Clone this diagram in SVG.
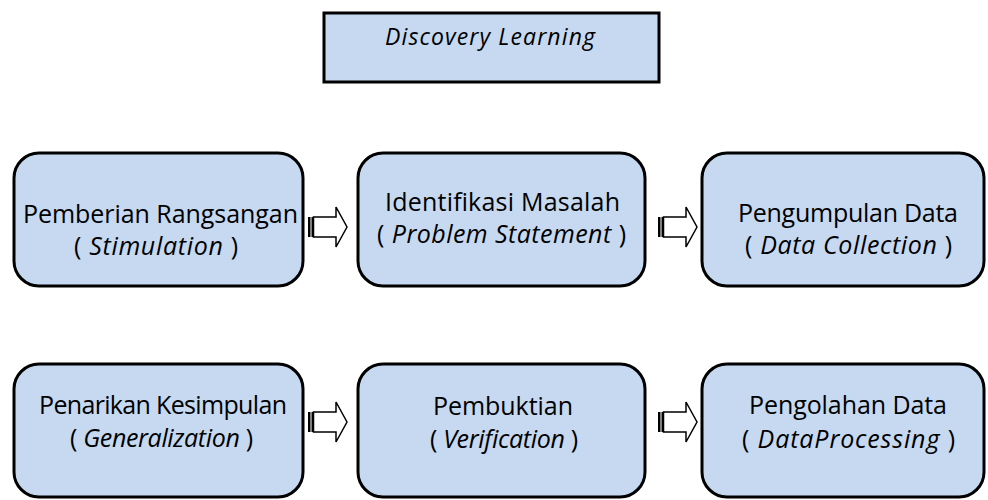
<svg xmlns="http://www.w3.org/2000/svg" width="988" height="500" viewBox="0 0 988 500">
<style>
.box{fill:#C6D9F1;stroke:#000;stroke-width:3}
.t{font-family:"Open Sans","Liberation Sans",sans-serif;font-size:25px;fill:#000;text-anchor:middle}
.i{font-style:italic}
.arr{fill:#fff;stroke:#000;stroke-width:1.5;stroke-linejoin:miter}
.bar{fill:#000}
</style>
<defs>
<g id="arrow">
<rect class="bar" x="0" y="-10" width="2.5" height="20"/>
<rect class="bar" x="3.5" y="-10" width="2" height="20"/>
<path class="arr" d="M5.5,-10 H28 V-20 L39,0 L28,20 V10 H5.5 Z"/>
</g>
</defs>
<rect width="988" height="500" fill="#fff"/>
<g id="title">
<rect class="box" x="324" y="13" width="335" height="69"/>
<text class="t i" x="490" y="45" style="font-size:23px" textLength="210">Discovery Learning</text>
</g>
<g id="stimulation">
<rect class="box" x="14" y="153" width="289" height="133" rx="25"/>
<text class="t" x="160.5" y="223" textLength="275">Pemberian Rangsangan</text>
<text class="t" x="156" y="255" textLength="164">( <tspan class="i">Stimulation</tspan> )</text>
</g>
<g id="problem">
<rect class="box" x="358" y="153" width="287" height="133" rx="25"/>
<text class="t" x="502.5" y="211" textLength="235">Identifikasi Masalah</text>
<text class="t" x="501.5" y="243" textLength="249">( <tspan class="i">Problem Statement</tspan> )</text>
</g>
<g id="collection">
<rect class="box" x="702" y="153" width="282" height="133" rx="25"/>
<text class="t" x="848" y="222" textLength="220">Pengumpulan Data</text>
<text class="t" x="848.5" y="254" textLength="207">( <tspan class="i">Data Collection</tspan> )</text>
</g>
<g id="generalization">
<rect class="box" x="14" y="364" width="289" height="133" rx="25"/>
<text class="t" x="163" y="414" textLength="248">Penarikan Kesimpulan</text>
<text class="t" x="161.5" y="447" textLength="183">( <tspan class="i">Generalization</tspan> )</text>
</g>
<g id="verification">
<rect class="box" x="358" y="364" width="287" height="133" rx="25"/>
<text class="t" x="503" y="415" textLength="140">Pembuktian</text>
<text class="t" x="504" y="448" textLength="148">( <tspan class="i">Verification</tspan> )</text>
</g>
<g id="processing">
<rect class="box" x="702" y="364" width="282" height="133" rx="25"/>
<text class="t" x="848" y="414" textLength="198">Pengolahan Data</text>
<text class="t" x="848.5" y="448" textLength="213">( <tspan class="i">DataProcessing</tspan> )</text>
</g>
<g id="connectors">
<use href="#arrow" x="308" y="227"/>
<use href="#arrow" x="658" y="227"/>
<use href="#arrow" x="308" y="422"/>
<use href="#arrow" x="658" y="422"/>
</g>
</svg>
